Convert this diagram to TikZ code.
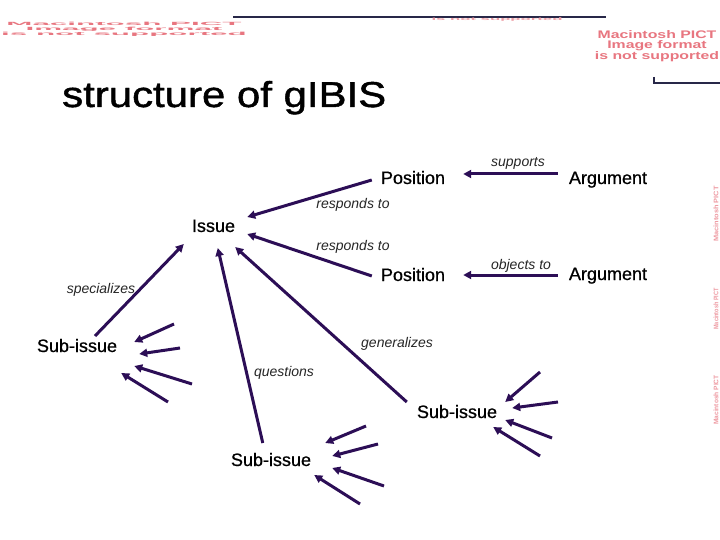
\documentclass[tikz,border=0pt]{standalone}
\usepackage{fontspec}
\setmainfont{Liberation Sans}
\newfontfamily\heavyfont[FakeBold=0.7]{Liberation Sans}
\newfontfamily\titlefont[FakeBold=1.2]{Liberation Sans}
\usetikzlibrary{arrows.meta}
\definecolor{arrcol}{RGB}{44,14,86}
\definecolor{pict}{RGB}{232,118,128}
\definecolor{rulecol}{RGB}{40,40,72}
\begin{document}
\begin{tikzpicture}[x=1pt,y=-1pt,
  lbl/.style={font=\heavyfont\fontsize{18}{20}\selectfont, inner sep=0pt, anchor=base},
  rel/.style={font=\fontsize{14}{16}\selectfont\itshape, inner sep=0pt, anchor=base, text=black!85},
  arr/.style={draw=arrcol, line width=3pt, -{Triangle[length=8pt,width=8pt]}},
  pictxt/.style={font=\fontsize{11}{12}\selectfont\bfseries, text=pict, inner sep=0pt},
  deco/.style={draw=rulecol, line width=1.5pt}]
\useasboundingbox[fill=white] (0,0) rectangle (720,540);

% placeholder artefacts
\node[pictxt] (pa1) at (124,24) {\scalebox{2.85}[0.42]{Macintosh PICT}};
\node[pictxt] (pa2) at (124,29) {\scalebox{2.85}[0.42]{Image format}};
\node[pictxt] (pa3) at (124,34) {\scalebox{2.85}[0.42]{is not supported}};
\node[pictxt] (pb1) at (657,35) {\scalebox{1.44}[1]{Macintosh PICT}};
\node[pictxt] (pb2) at (657,46) {\scalebox{1.44}[1]{Image format}};
\node[pictxt] (pb3) at (657,57) {\scalebox{1.44}[1]{is not supported}};
\coordinate (l1) at (233,17);
\coordinate (l2) at (606,17);
\draw[deco] (l1) -- (l2);
\node[pictxt, text=pict!70] (pc) at (497,20) {\scalebox{1.52}[0.35]{is not supported}};
\coordinate (c1) at (654,77);
\coordinate (c2) at (654,83);
\coordinate (c3) at (720,83);
\draw[deco, line width=1.2pt] (c1) -- (c2) -- (c3);
\node[pictxt, text=pict!75, rotate=90] (pr1) at (716,214) {\scalebox{0.67}[0.6]{Macintosh PICT}};
\node[pictxt, text=pict!75, rotate=90] (pr2) at (716,309) {\scalebox{0.5}[0.6]{Macintosh PICT}};
\node[pictxt, text=pict!75, rotate=90] (pr3) at (716,400) {\scalebox{0.6}[0.6]{Macintosh PICT}};

% title
\node[inner sep=0pt, anchor=base west, font=\titlefont\fontsize{36}{40}\selectfont] (title) at (62,107) {\scalebox{1.165}[1]{structure of gIBIS}};

% nodes
\node[lbl] (pos1) at (413,184) {Position};
\node[lbl] (arg1) at (608,184) {Argument};
\node[lbl] (issue) at (213.5,232) {Issue};
\node[lbl] (pos2) at (413,281) {Position};
\node[lbl] (arg2) at (608,280) {Argument};
\node[lbl] (sub1) at (77,352) {Sub-issue};
\node[lbl] (sub2) at (457,418) {Sub-issue};
\node[lbl] (sub3) at (271,466) {Sub-issue};

% relation labels
\node[rel] (lsup) at (518,167) {supports};
\node[rel] (lr1) at (353,209) {responds to};
\node[rel] (lr2) at (353,251) {responds to};
\node[rel] (lobj) at (521,269) {objects to};
\node[rel] (lspec) at (101,293) {specializes};
\node[rel] (lgen) at (397,347) {generalizes};
\node[rel] (lq) at (284,376) {questions};

% main connectors
\draw[arr] ([shift={(-9,-4)}]pos1.base west) -- ([shift={(12,-15)}]issue.base east);
\draw[arr] ([shift={(-9,-5)}]pos2.base west) -- ([shift={(12,2)}]issue.base east);
\draw[arr] ([shift={(-11,-10)}]arg1.base west) -- ([shift={(18,-10)}]pos1.base east);
\draw[arr] ([shift={(-11,-5)}]arg2.base west) -- ([shift={(18,-6)}]pos2.base east);
\draw[arr] ([shift={(18,-16)}]sub1.base) -- ([shift={(-8,12)}]issue.base west);
\draw[arr] ([shift={(32,-23)}]sub3.base west) -- ([shift={(26,16)}]issue.base west);
\draw[arr] ([shift={(-10,-16)}]sub2.base west) -- ([shift={(0,15)}]issue.base east);

% fan arrows into sub1
\coordinate (f1a) at (174,324);
\coordinate (f1b) at (180,348);
\coordinate (f1c) at (192,384);
\coordinate (f1d) at (168,402);
\draw[arr] (f1a) -- ([shift={(17,-10)}]sub1.base east);
\draw[arr] (f1b) -- ([shift={(22,2)}]sub1.base east);
\draw[arr] (f1c) -- ([shift={(17,14)}]sub1.base east);
\draw[arr] (f1d) -- ([shift={(4,21)}]sub1.base east);

% fan arrows into sub3
\coordinate (f3a) at (366,426);
\coordinate (f3b) at (378,444);
\coordinate (f3c) at (384,486);
\coordinate (f3d) at (360,504);
\draw[arr] (f3a) -- ([shift={(14,-23)}]sub3.base east);
\draw[arr] (f3b) -- ([shift={(21,-10)}]sub3.base east);
\draw[arr] (f3c) -- ([shift={(21,2)}]sub3.base east);
\draw[arr] (f3d) -- ([shift={(3,9)}]sub3.base east);

% fan arrows into sub2
\coordinate (f2a) at (540,372);
\coordinate (f2b) at (558,402);
\coordinate (f2c) at (552,438);
\coordinate (f2d) at (540,456);
\draw[arr] (f2a) -- ([shift={(8,-16)}]sub2.base east);
\draw[arr] (f2b) -- ([shift={(15,-10)}]sub2.base east);
\draw[arr] (f2c) -- ([shift={(8,2)}]sub2.base east);
\draw[arr] (f2d) -- ([shift={(-4,9)}]sub2.base east);
\end{tikzpicture}
\end{document}
